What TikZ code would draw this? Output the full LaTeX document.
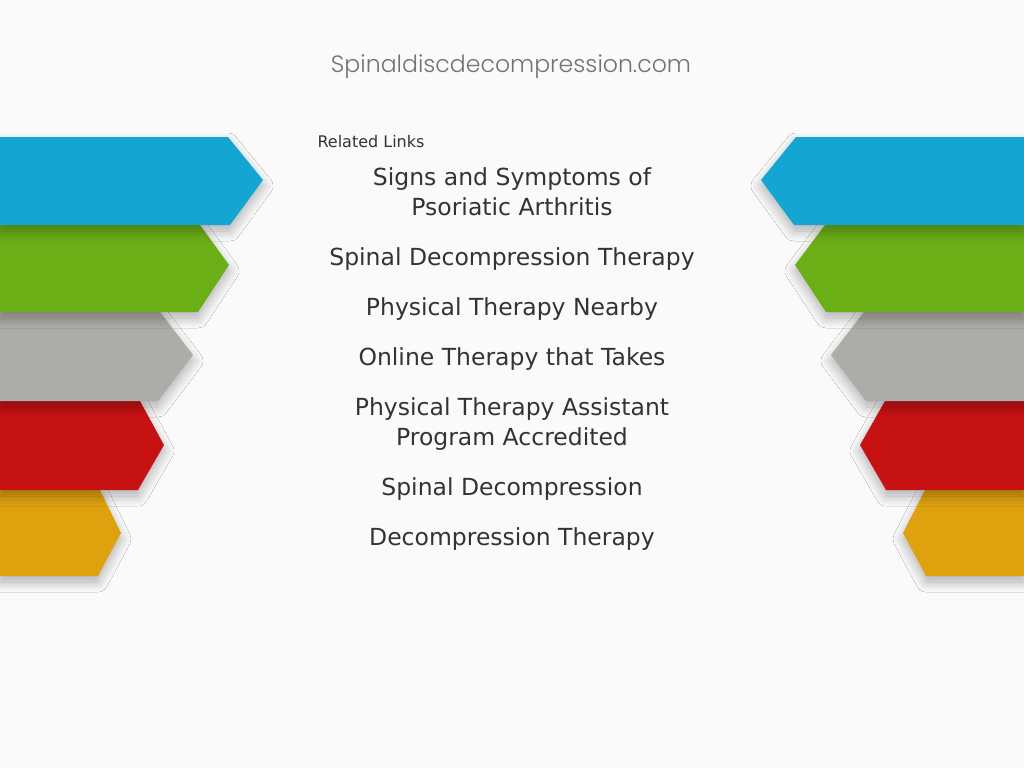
\documentclass[tikz,border=0pt]{standalone}
\usepackage{fontspec}
\setmainfont{DejaVu Sans}
\newfontfamily\titlefont{Poppins Light}
\usetikzlibrary{shadows.blur}
\definecolor{bg}{HTML}{FAFAFA}
\definecolor{cblue}{HTML}{13A6D3}
\definecolor{cgreen}{HTML}{6BAF16}
\definecolor{cgray}{HTML}{ADACA6}
\definecolor{cred}{HTML}{C71214}
\definecolor{cyellow}{HTML}{DFA20F}
\definecolor{ctext}{HTML}{333333}
\tikzset{
 tab/.style={fill=#1,draw=none,blur shadow={shadow xshift=0pt,shadow yshift=-6pt,shadow blur radius=10pt,shadow blur steps=12,shadow opacity=30}},
 link/.style={text=ctext,font=\fontsize{23.5}{30}\selectfont,align=center,anchor=north},
}
\begin{document}
\begin{tikzpicture}[x=1pt,y=-1pt]
\fill[bg] (0,0) rectangle (1024,768);
\useasboundingbox (0,0) rectangle (1024,768);
% left tabs (bottom first so upper overlaps)
\path[tab=cyellow] (0,490)--(100,490)--(121,533)--(98,576)--(0,576)--cycle;
\path[tab=cred] (0,401)--(140,401)--(164,445)--(138,490)--(0,490)--cycle;
\path[tab=cgray] (0,312)--(160,312)--(193,355)--(158,401)--(0,401)--cycle;
\path[tab=cgreen] (0,225)--(200,225)--(229,265)--(198,312)--(0,312)--cycle;
\path[tab=cblue] (0,137)--(228,137)--(263,180)--(230,225)--(0,225)--cycle;
% right tabs
\path[tab=cyellow] (1024,490)--(925,490)--(903,533)--(926,576)--(1024,576)--cycle;
\path[tab=cred] (1024,401)--(885,401)--(860,445)--(886,490)--(1024,490)--cycle;
\path[tab=cgray] (1024,312)--(864,312)--(831,355)--(866,401)--(1024,401)--cycle;
\path[tab=cgreen] (1024,225)--(825,225)--(795,265)--(826,312)--(1024,312)--cycle;
\path[tab=cblue] (1024,137)--(796,137)--(761,180)--(794,225)--(1024,225)--cycle;
% texts
\node[text=black!55,font=\titlefont\fontsize{23.6}{28}\selectfont] (title) at (511,67) {Spinaldiscdecompression.com};
\node[text=ctext,font=\fontsize{16}{19}\selectfont,anchor=west] (rel) at (314,142) {Related Links};
\node[link] (l1) at (512,164) {Signs and Symptoms of\\Psoriatic Arthritis};
\node[link] (l2) at (512,244) {Spinal Decompression Therapy};
\node[link] (l3) at (512,294) {Physical Therapy Nearby};
\node[link] (l4) at (512,344) {Online Therapy that Takes};
\node[link] (l5) at (512,394) {Physical Therapy Assistant\\Program Accredited};
\node[link] (l6) at (512,474) {Spinal Decompression};
\node[link] (l7) at (512,524) {Decompression Therapy};
\end{tikzpicture}
\end{document}
